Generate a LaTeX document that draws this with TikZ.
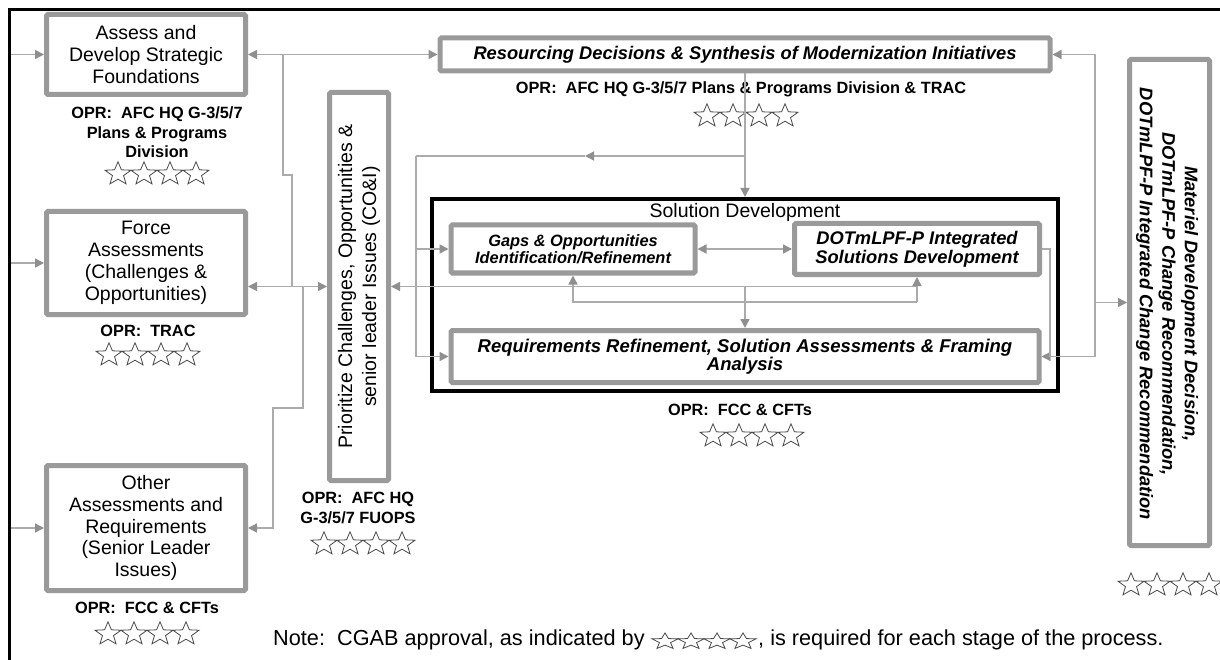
\documentclass[tikz,border=0pt]{standalone}
\usepackage{fontspec}
\setmainfont{Liberation Sans}
\usetikzlibrary{arrows.meta}
\definecolor{boxgray}{HTML}{9A9A9A}
\definecolor{linegray}{HTML}{ABABAB}
\definecolor{tipgray}{HTML}{8F8F8F}
\definecolor{stargray}{HTML}{4A4A4A}
\begin{document}
\begin{tikzpicture}[x=1pt,y=-1pt,
  gbox/.style={draw=boxgray,line width=5pt,rounded corners=1.5pt,fill=white,inner sep=0pt},
  lbl/.style={align=center,font=\fontsize{19.5}{21.8}\selectfont},
  opr/.style={align=center,font=\bfseries\fontsize{16.3}{19.5}\selectfont},
  bit/.style={align=center,font=\bfseries\itshape\fontsize{18.3}{19}\selectfont},
  conn/.style={draw=linegray,line width=1.4pt},
  arr/.style={-{Triangle[length=9pt,width=9pt,color=tipgray]}},
  darr/.style={{Triangle[length=9pt,width=9pt,color=tipgray]}-{Triangle[length=9pt,width=9pt,color=tipgray]}},
  starrow/.pic={
    \foreach \k in {-1.5,-0.5,0.5,1.5}{
      \draw[draw=stargray,line width=0.8pt,xshift=\k*26pt,xscale=1.12]
        (-90:12.2) -- (-54:5.2) -- (-18:12.2) -- (18:5.2) -- (54:12.2) -- (90:5.2)
        -- (126:12.2) -- (162:5.2) -- (198:12.2) -- (234:5.2) -- cycle;
    }
  }
]
\useasboundingbox (0,0) rectangle (1220,660);
\fill[white] (0,0) rectangle (1220,660);
% frame
\draw[line width=3pt] (9.5,660) -- (9.5,9.5) -- (1220,9.5);

% solution development frame
\node[draw=black,line width=4pt,minimum width=626pt,minimum height=192pt,inner sep=0pt] (SD) at (745,295) {};
\node[lbl] (SDt) at (745,212) {Solution Development};

% boxes
\node[gbox,lbl,minimum width=199pt,minimum height=80pt] (A) at (146,54.5) {Assess and\\Develop Strategic\\Foundations};
\node[gbox,lbl,minimum width=199pt,minimum height=103pt] (F) at (146,263) {Force\\Assessments\\(Challenges \&\\Opportunities)};
\node[gbox,lbl,minimum width=199pt,minimum height=125pt] (O) at (146,528) {Other\\Assessments and\\Requirements\\(Senior Leader\\Issues)};
\node[gbox,minimum width=59pt,minimum height=388pt] (P) at (359,286.5) {};
\node[rotate=90,align=center,font=\fontsize{19.5}{24}\selectfont] (Pt) at (P.center) {Prioritize Challenges, Opportunities \&\\senior leader Issues (CO\&I)};
\node[gbox,bit,minimum width=610pt,minimum height=33pt] (R) at (745,54.5) {Resourcing Decisions \& Synthesis of Modernization Initiatives};
\node[gbox,bit,font=\bfseries\itshape\fontsize{16.4}{16.5}\selectfont,minimum width=244pt,minimum height=48pt] (G) at (573,249) {Gaps \& Opportunities\\Identification/Refinement};
\node[gbox,bit,minimum width=245pt,minimum height=51pt] (D) at (917,249) {DOTmLPF-P Integrated\\Solutions Development};
\node[gbox,bit,font=\bfseries\itshape\fontsize{18.5}{18.5}\selectfont,minimum width=588pt,minimum height=52pt] (Q) at (745,356.5) {Requirements Refinement, Solution Assessments \& Framing\\Analysis};
\node[gbox,minimum width=80pt,minimum height=486pt] (M) at (1169.5,302.5) {};
\node[rotate=-90,align=center,font=\bfseries\itshape\fontsize{18.3}{22.5}\selectfont] (Mt) at (1167,304) {Materiel Development Decision,\\DOTmLPF-P Change Recommendation,\\DOTmLPF-P Integrated Change Recommendation};

% OPR labels
\node[opr] (oA) at (157,132.5) {OPR:\ \ AFC HQ G-3/5/7\\Plans \& Programs\\Division};
\node[opr] (oF) at (148,331) {OPR:\ \ TRAC};
\node[opr] (oO) at (147,608) {OPR:\ \ FCC \& CFTs};
\node[opr] (oP) at (358,508) {OPR:\ \ AFC HQ\\G-3/5/7 FUOPS};
\node[opr] (oR) at (741,89) {OPR:\ \ AFC HQ G-3/5/7 Plans \& Programs Division \& TRAC};
\node[opr] (oSD) at (740,410) {OPR:\ \ FCC \& CFTs};

% stars
\pic (sA) at (157,174) {starrow};
\pic (sF) at (148,355) {starrow};
\pic (sO) at (147,634) {starrow};
\pic (sP) at (363,544) {starrow};
\pic (sR) at (746,116) {starrow};
\pic (sSD) at (752,436) {starrow};
\pic (sM) at (1170,585) {starrow};

% note
\node[anchor=base west,font=\fontsize{21.7}{24}\selectfont,inner sep=0pt] (N1) at (273,645) {Note:\ \ CGAB approval, as indicated by};
\pic[yscale=0.7] (sN) at (704,641.5) {starrow};
\node[anchor=base west,font=\fontsize{21.7}{24}\selectfont,inner sep=0pt] (N2) at (758,645) {, is required for each stage of the process.};

% left inputs
\draw[conn,arr] ([xshift=-33pt]A.west) -- (A.west);
\draw[conn,arr] ([xshift=-33pt]F.west) -- (F.west);
\draw[conn,arr] ([xshift=-33pt]O.west) -- (O.west);

% A <-> R and branches
\draw[conn,darr] (A.east) -- (R.west);
\coordinate (J1) at (283,54.5);
\coordinate (J2) at (292,286.5);
\draw[conn] (J1) -- (283,175) -- (292,175) -- (J2);
\draw[conn,darr] (F.east |- P.west) -- (P.west);
\coordinate (J4) at (303,286.5);
\draw[conn,arr] (J4) -- (303,408) -- (273,408) -- (273,528) -- (O.east);

% P <-> D, bracket
\coordinate (J5) at (917,286.5);
\draw[conn,darr] (P.east) -- (J5) -- (D.south);
\coordinate (J6) at (917,302);
\draw[conn] (J5) -- (J6);
\draw[conn,arr] (J6) -- (573,302) -- (G.south);
\coordinate (J7) at (745,286.5);
\draw[conn,arr] (J7) -- (Q.north);

% R -> SD and feed
\draw[conn,arr] (R.south) -- (SD.north);
\coordinate (J8) at (745,156);
\coordinate (K1) at (585,156);
\coordinate (J9) at (416,156);
\draw[conn,arr] (J8) -- (K1);
\draw[conn] (K1) -- (J9);
\draw[conn,arr] (J9) -- (416,356.5) -- (Q.west);
\coordinate (J11) at (416,249);
\draw[conn,arr] (J11) -- (G.west);

% G <-> D
\draw[conn,darr] (G.east) -- (D.west);

% right side
\coordinate (J10) at (1095,54.5);
\draw[conn,darr] (R.east) -- (J10) -- (1095,356.5) -- (Q.east);
\coordinate (J12) at (1095,302.5);
\draw[conn,arr] (J12) -- (M.west);
\draw[conn] (D.east) -- (1050,249) -- (1050,356.5);
\end{tikzpicture}
\end{document}
